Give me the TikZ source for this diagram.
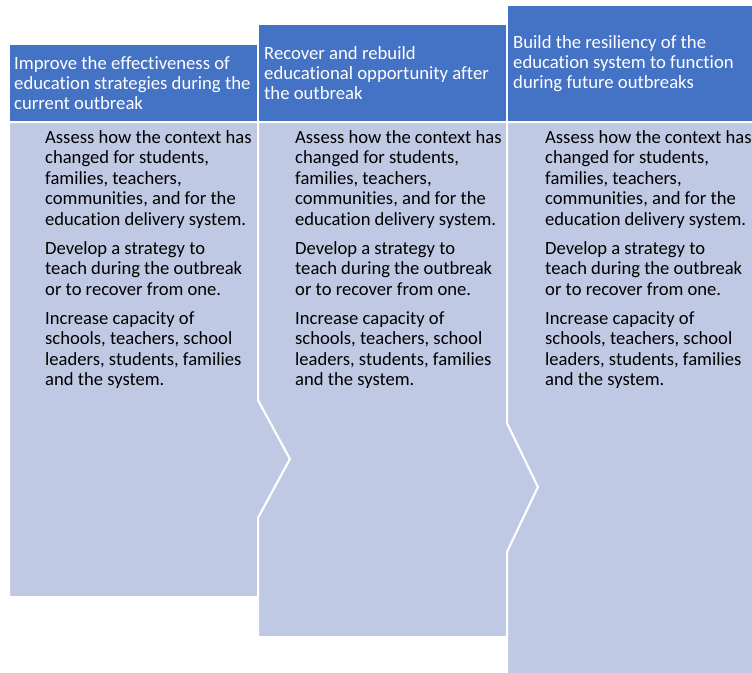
\documentclass[tikz,border=0pt]{standalone}
\usepackage{fontspec}
\setmainfont{Carlito}[Ligatures=NoCommon]
\usepackage{tikz}
\definecolor{mhead}{HTML}{4472C4}
\definecolor{mbody}{HTML}{BFC9E3}

\tikzset{
  panel/.style={draw=white, line width=2pt, fill=#1},
  headtext/.style={anchor=west, align=left, inner sep=0, text=white,
    font=\fontsize{18.7}{20.3}\selectfont},
  bodytext/.style={anchor=north west, align=left, inner sep=0,
    font=\fontsize{18.6}{20.5}\selectfont}
}

\newcommand{\stepitems}{Assess how the context has\\ changed for students,\\ families, teachers,\\ communities, and for the\\ education delivery system.\\[8.5pt]
  Develop a strategy to\\ teach during the outbreak\\ or to recover from one.\\[8.5pt]
  Increase capacity of\\ schools, teachers, school\\ leaders, students, families\\ and the system.}

\begin{document}
\begin{tikzpicture}[x=1pt, y=-1pt]
  \useasboundingbox [fill=white] (0, 0) rectangle (752, 672);

  % bodies, left to right: each one points into the notch of the next
  \draw [panel=mbody] (9, 122) -- (258, 122) -- (258, 400) -- (290, 459)
        -- (258, 518) -- (258, 597) -- (9, 597) -- cycle;
  \draw [panel=mbody] (258, 122) -- (507, 122) -- (507, 423) -- (538, 487)
        -- (507, 552) -- (507, 637) -- (258, 637) -- (258, 518)
        -- (290, 459) -- (258, 400) -- cycle;
  \draw [panel=mbody] (507, 122) -- (770, 122) -- (770, 690) -- (507, 690)
        -- (507, 552) -- (538, 487) -- (507, 423) -- cycle;

  % headers
  \draw [panel=mhead] (9, 44) rectangle (258, 122);
  \draw [panel=mhead] (258, 24) rectangle (507, 122);
  \draw [panel=mhead] (507, 5) rectangle (770, 122);

  \node [headtext] (goal1) at (14, 83) {Improve the effectiveness of\\ education strategies during the\\ current outbreak};
  \node [headtext] (goal2) at (264, 73) {Recover and rebuild\\ educational opportunity after\\ the outbreak};
  \node [headtext] (goal3) at (513, 63.5) {Build the resiliency of the\\ education system to function\\ during future outbreaks};

  \node [bodytext] (steps1) at (45, 130) {\stepitems};
  \node [bodytext] (steps2) at (295, 130) {\stepitems};
  \node [bodytext] (steps3) at (545, 130) {\stepitems};
\end{tikzpicture}
\end{document}
